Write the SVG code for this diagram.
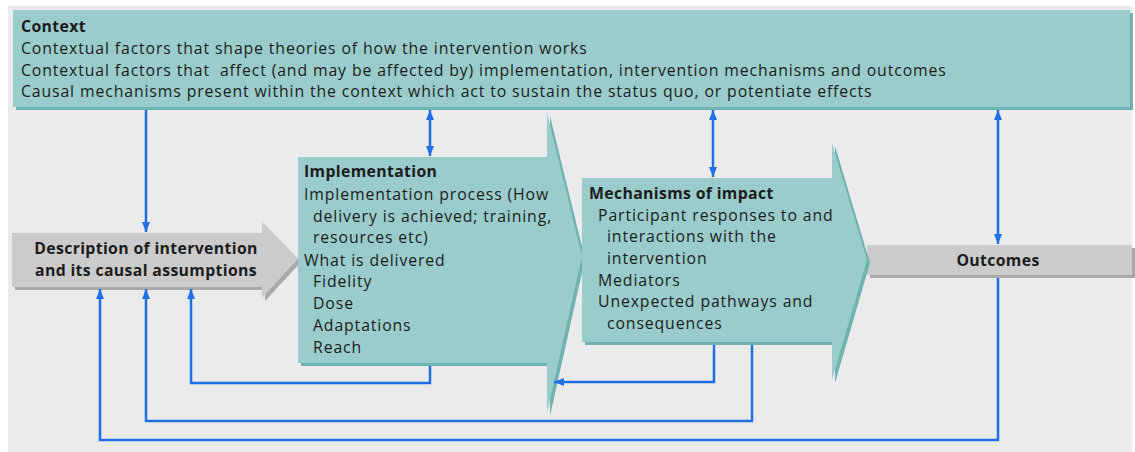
<svg xmlns="http://www.w3.org/2000/svg" width="1135" height="452" viewBox="0 0 1135 452">
  <style>
    .bg { fill: #ebebeb; }
    .teal { fill: #9acccb; }
    .teal-sh { fill: #6fb3b0; }
    .grey { fill: #cbcbcb; }
    .grey-sh { fill: #a8a8a8; }
    .t { font-family: "Open Sans", "Noto Sans", sans-serif; font-size: 15.8px; letter-spacing: 0.88px; fill: #1c1c1c; }
    .b { font-weight: bold; letter-spacing: 0.35px; }
    .mid { text-anchor: middle; }
    .pre { white-space: pre; }
    .conn { fill: none; stroke: #1f6fe5; stroke-width: 2.5; }
  </style>
  <defs>
    <marker id="head" viewBox="0 0 10 8" refX="10" refY="4" markerWidth="10" markerHeight="8" markerUnits="userSpaceOnUse" orient="auto-start-reverse">
      <path d="M0,0 L10,4 L0,8 Z" fill="#1f6fe5"/>
    </marker>
  </defs>

  <!-- panel background -->
  <rect class="bg" x="8" y="6" width="1124" height="446"/>

  <!-- Context band -->
  <g id="context">
    <rect class="teal-sh" x="16" y="13" width="1117" height="97"/>
    <rect class="teal" x="13" y="10" width="1117" height="97"/>
    <text class="t b" x="21" y="32">Context</text>
    <text class="t" x="21" y="54">Contextual factors that shape theories of how the intervention works</text>
    <text class="t pre" x="21" y="76" xml:space="preserve">Contextual factors that  affect (and may be affected by) implementation, intervention mechanisms and outcomes</text>
    <text class="t" x="21" y="97">Causal mechanisms present within the context which act to sustain the status quo, or potentiate effects</text>
  </g>

  <!-- Outcomes bar -->
  <g id="outcomes">
    <rect class="grey-sh" x="870" y="248" width="265" height="30"/>
    <rect class="grey" x="867" y="245" width="265" height="30"/>
    <text class="t b mid" x="998" y="266">Outcomes</text>
  </g>

  <!-- Description arrow -->
  <g id="description">
    <polygon class="grey-sh" points="15,236 265,236 265,225 301,262 265,301 265,290 15,290"/>
    <polygon class="grey" points="12,233 262,233 262,222 298,259 262,298 262,287 12,287"/>
    <text class="t b mid" x="146" y="254">Description of intervention</text>
    <text class="t b mid" x="146" y="276">and its causal assumptions</text>
  </g>

  <!-- Implementation arrow -->
  <g id="implementation">
    <polygon class="teal-sh" points="301,160 550,160 550,116 585,259 550,416 550,366 301,366"/>
    <polygon class="teal" points="298,157 547,157 547,113 582,256 547,413 547,363 298,363"/>
    <text class="t b" x="304" y="177">Implementation</text>
    <text class="t" x="304" y="200">Implementation process (How</text>
    <text class="t" x="313" y="222">delivery is achieved; training,</text>
    <text class="t" x="313" y="243">resources etc)</text>
    <text class="t" x="304" y="266">What is delivered</text>
    <text class="t" x="313" y="287">Fidelity</text>
    <text class="t" x="313" y="309">Dose</text>
    <text class="t" x="313" y="331">Adaptations</text>
    <text class="t" x="313" y="353">Reach</text>
  </g>

  <!-- Mechanisms of impact arrow -->
  <g id="mechanisms">
    <polygon class="teal-sh" points="585,181 835,181 835,146 870,263 835,383 835,345 585,345"/>
    <polygon class="teal" points="582,178 832,178 832,143 867,260 832,380 832,342 582,342"/>
    <text class="t b" x="589" y="199">Mechanisms of impact</text>
    <text class="t" x="598" y="221">Participant responses to and</text>
    <text class="t" x="607" y="242">interactions with the</text>
    <text class="t" x="607" y="264">intervention</text>
    <text class="t" x="598" y="286">Mediators</text>
    <text class="t" x="598" y="307">Unexpected pathways and</text>
    <text class="t" x="607" y="329">consequences</text>
  </g>

  <!-- Connectors -->
  <g id="connectors">
    <path class="conn" d="M146,110 V232" marker-end="url(#head)"/>
    <path class="conn" d="M430,110 V156" marker-start="url(#head)" marker-end="url(#head)"/>
    <path class="conn" d="M713,110 V177" marker-start="url(#head)" marker-end="url(#head)"/>
    <path class="conn" d="M998,110 V244" marker-start="url(#head)" marker-end="url(#head)"/>
    <path class="conn" d="M430,366 V383 H191 V289" marker-end="url(#head)"/>
    <path class="conn" d="M714,345 V382 H554" marker-end="url(#head)"/>
    <path class="conn" d="M752,345 V421 H146 V289" marker-end="url(#head)"/>
    <path class="conn" d="M998,278 V440 H100 V289" marker-end="url(#head)"/>
  </g>
</svg>
